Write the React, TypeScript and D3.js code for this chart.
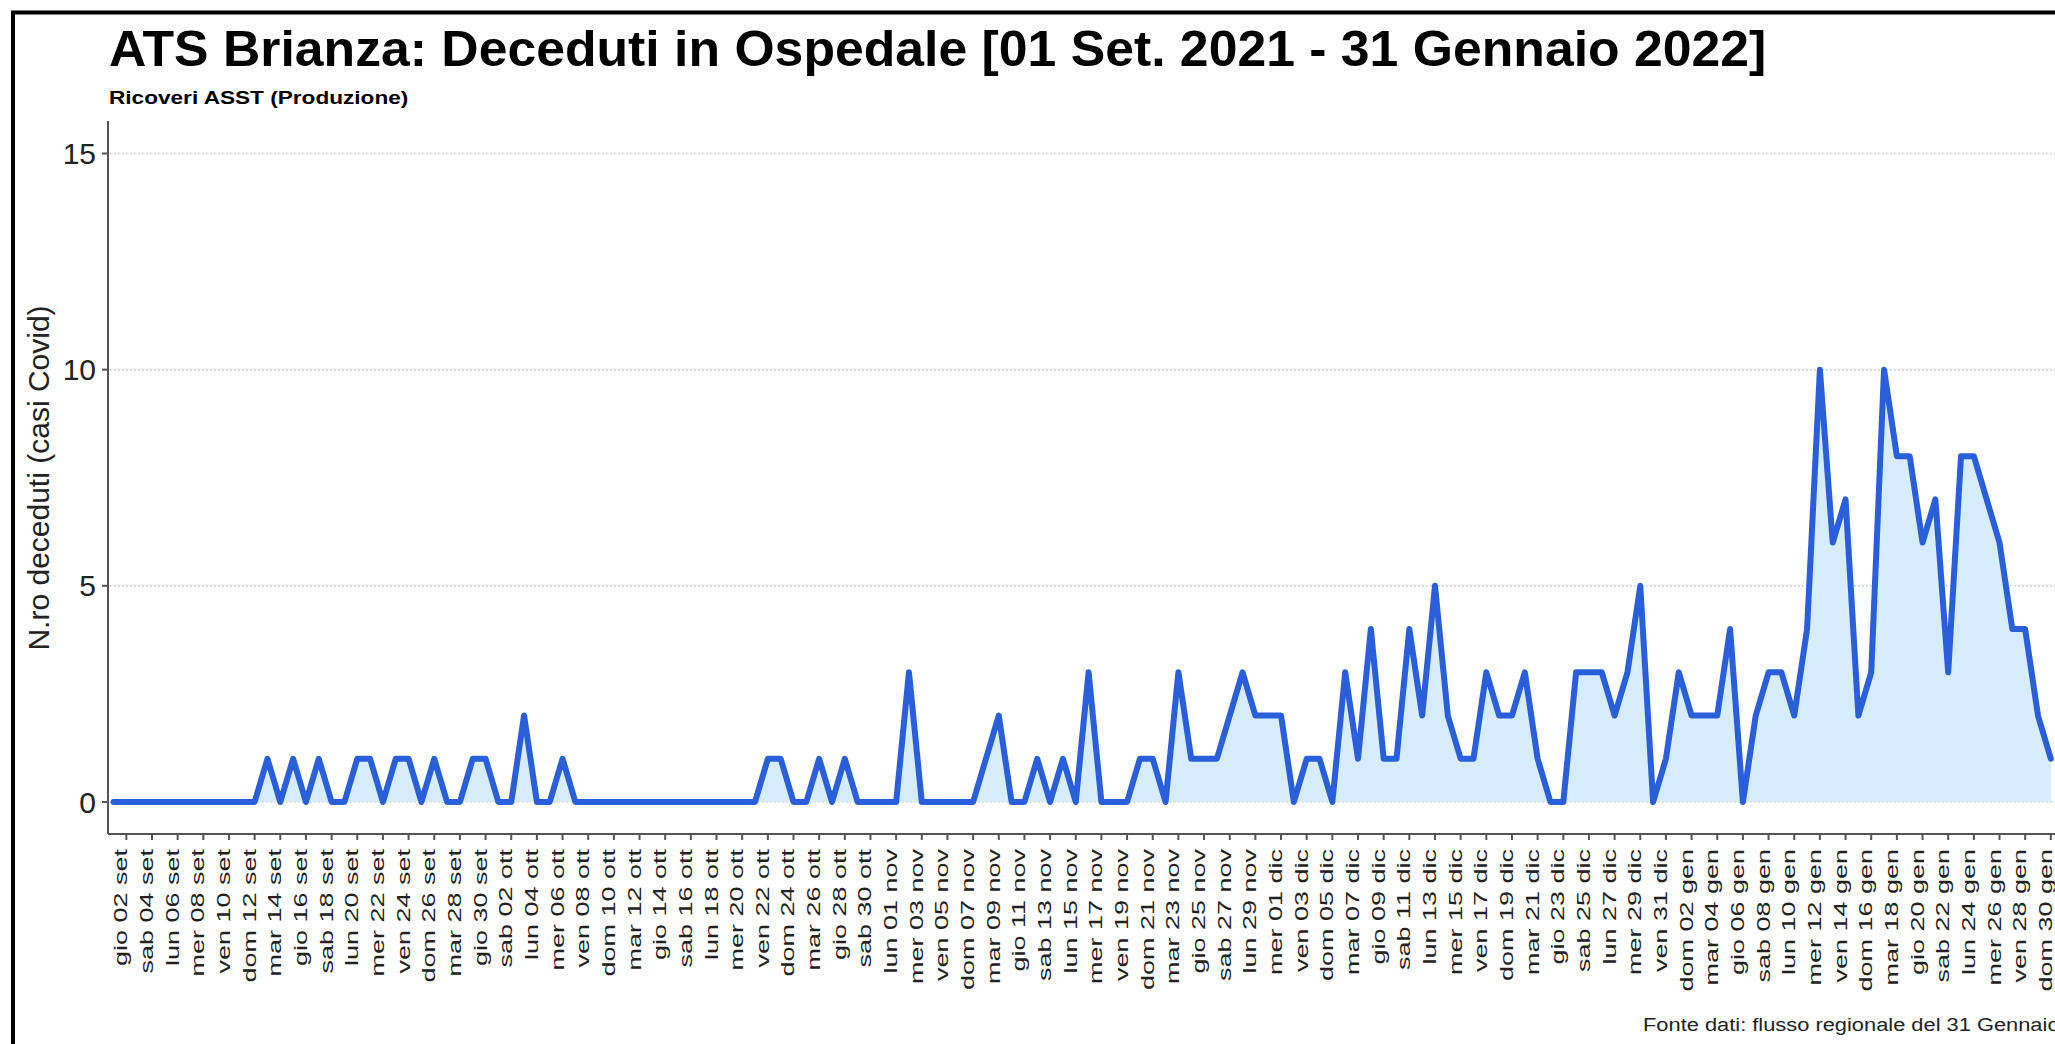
import * as d3 from 'd3'

// daily deaths, 01 Sep 2021 -> 30 Jan 2022
const START = Date.UTC(2021, 8, 1)
const deaths = [
  0, 0, 0, 0, 0, 0, 0, 0, 0, 0, 0, 0, 1, 0, 1, 0, 1, 0, 0, 1,
  1, 0, 1, 1, 0, 1, 0, 0, 1, 1, 0, 0, 2, 0, 0, 1, 0, 0, 0, 0,
  0, 0, 0, 0, 0, 0, 0, 0, 0, 0, 0, 1, 1, 0, 0, 1, 0, 1, 0, 0,
  0, 0, 3, 0, 0, 0, 0, 0, 1, 2, 0, 0, 1, 0, 1, 0, 3, 0, 0, 0,
  1, 1, 0, 3, 1, 1, 1, 2, 3, 2, 2, 2, 0, 1, 1, 0, 3, 1, 4, 1,
  1, 4, 2, 5, 2, 1, 1, 3, 2, 2, 3, 1, 0, 0, 3, 3, 3, 2, 3, 5,
  0, 1, 3, 2, 2, 2, 4, 0, 2, 3, 3, 2, 4, 10, 6, 7, 2, 3, 10, 8,
  8, 6, 7, 3, 8, 8, 7, 6, 4, 4, 2, 1,
]
const dayNames = ['dom', 'lun', 'mar', 'mer', 'gio', 'ven', 'sab']
const monthNames = ['gen', 'feb', 'mar', 'apr', 'mag', 'giu', 'lug', 'ago', 'set', 'ott', 'nov', 'dic']
const yTicks = [0, 5, 10, 15]

const TITLE = 'ATS Brianza: Deceduti in Ospedale [01 Set. 2021 - 31 Gennaio 2022]'
const SUBTITLE = 'Ricoveri ASST (Produzione)'
const Y_LABEL = 'N.ro deceduti (casi Covid)'
const SOURCE = 'Fonte dati: flusso regionale del 31 Gennaio 2022'

const W = 2055
const H = 1044
const LINE = '#2a5fdc'
const FILL = '#d7ecfc'
const AXIS = '#555'

function dayLabel(d: Date) {
  const dd = String(d.getUTCDate()).padStart(2, '0')
  return `${dayNames[d.getUTCDay()]} ${dd} ${monthNames[d.getUTCMonth()]}`
}

export default function App() {
  const dates = deaths.map((_, i) => d3.utcDay.offset(new Date(START), i))
  const data = deaths.map((v, i) => ({ date: dates[i], v }))

  const x = d3.scaleUtc()
    .domain([new Date(START), d3.utcDay.offset(new Date(START), 152)])
    .range([113.5, 113.5 + 152 * 12.83])
  const y = d3.scaleLinear().domain([0, 15]).range([802, 153.5])

  const axisX = 108
  const axisY = 834

  const area = d3.area<{ date: Date; v: number }>()
    .x((d) => x(d.date))
    .y0(y(0))
    .y1((d) => y(d.v))
  const line = d3.line<{ date: Date; v: number }>()
    .x((d) => x(d.date))
    .y((d) => y(d.v))

  // a tick every other day, starting from 02 set
  const xTicks = dates.filter((_, i) => i % 2 === 1)

  return (
    <div style={{ position: 'fixed', left: 0, top: 0, width: W, height: H, overflow: 'hidden', background: '#fff' }}>
      <svg width={W} height={H} style={{ display: 'block', fontFamily: '"Liberation Sans", Arial, sans-serif' }}>
        <rect x={13} y={12.5} width={W + 50} height={H + 50} fill="none" stroke="#000" strokeWidth={4} />

        <text transform={`translate(109,66) scale(1.045,1)`} fontSize={49.5} fontWeight="bold" fill="#000">
          {TITLE}
        </text>
        <text transform={`translate(109,104) scale(1.19,1)`} fontSize={19} fontWeight="bold" fill="#000">
          {SUBTITLE}
        </text>

        {yTicks.map((t) => (
          <line
            key={`g${t}`}
            x1={axisX + 2}
            x2={W}
            y1={y(t)}
            y2={y(t)}
            stroke="#c8c8c8"
            strokeWidth={1.5}
            strokeDasharray="1.5,2.5"
          />
        ))}

        <path d={area(data) ?? ''} fill={FILL} />
        <path d={line(data) ?? ''} fill="none" stroke={LINE} strokeWidth={6} strokeLinejoin="round" strokeLinecap="round" />

        <line x1={axisX} x2={axisX} y1={121} y2={axisY} stroke={AXIS} strokeWidth={2} />
        <line x1={axisX} x2={W} y1={axisY} y2={axisY} stroke={AXIS} strokeWidth={2} />

        {yTicks.map((t) => (
          <g key={`y${t}`}>
            <line x1={axisX - 6} x2={axisX} y1={y(t)} y2={y(t)} stroke={AXIS} strokeWidth={2} />
            <text x={96} y={y(t)} dy="0.35em" textAnchor="end" fontSize={30} fill="#222">
              {t}
            </text>
          </g>
        ))}

        {xTicks.map((d) => (
          <g key={d.toISOString()}>
            <line x1={x(d)} x2={x(d)} y1={axisY} y2={axisY + 6} stroke={AXIS} strokeWidth={2} />
            <text
              transform={`translate(${x(d) + 1},849) rotate(-90) scale(1.42,1)`}
              textAnchor="end"
              fontSize={19}
              fill="#222"
            >
              {dayLabel(d)}
            </text>
          </g>
        ))}

        <text transform={`translate(49,478) rotate(-90)`} textAnchor="middle" fontSize={30} fill="#222">
          {Y_LABEL}
        </text>

        <text transform={`translate(1643,1031) scale(1.15,1)`} fontSize={19} fill="#222">
          {SOURCE}
        </text>
      </svg>
    </div>
  )
}
